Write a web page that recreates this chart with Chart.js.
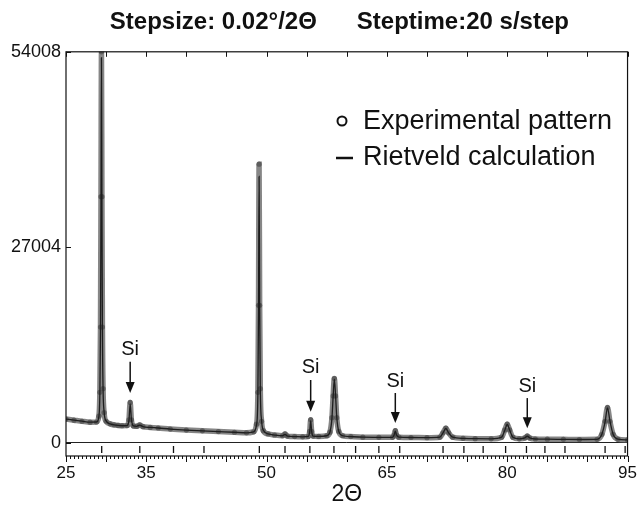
<!doctype html>
<html lang="en">
<head>
  <meta charset="utf-8">
  <title>XRD Rietveld pattern</title>
  <style>
    * { margin: 0; padding: 0; }
    body { background: white; }
    .chartBox { width: 644px; height: 508px; position: relative; }
  </style>
</head>
<body>
<div class="chartBox">
  <canvas id="myChart"></canvas>
</div>

<script src="https://cdn.jsdelivr.net/npm/chart.js"></script>
<script>
  // data
  const twoTheta = [25, 26, 27, 28, 28.8, 29.1, 29.22, 29.3, 29.36, 29.42, 29.48, 29.54, 29.62, 29.75, 30.0,
    30.5, 31.0, 31.5, 32.0, 32.6, 32.85, 33.0, 33.15, 33.4, 33.8, 34.2, 34.6, 35.5, 36.5, 38, 40, 42, 44, 46,
    47.5, 48.4, 48.75, 48.92, 49.0, 49.07, 49.14, 49.22, 49.38, 49.6, 50.2, 51, 52, 52.3, 52.6, 53.5, 54.5,
    55.2, 55.38, 55.5, 55.62, 55.8, 56.5, 57.5, 57.9, 58.15, 58.3, 58.45, 58.6, 58.75, 59.0, 59.5, 60.5, 62,
    64, 65.7, 65.9, 66.05, 66.2, 66.5, 68, 70, 71.6, 72.0, 72.35, 72.7, 73.2, 74.5, 76, 78, 79.3, 79.7, 80.0,
    80.3, 80.7, 81.5, 82.2, 82.5, 82.8, 83.5, 85, 87, 89, 91.2, 91.8, 92.2, 92.5, 92.8, 93.2, 93.8, 95];
  const expCounts = [3300, 3150, 3000, 2880, 2900, 3700, 7000, 16000, 34000, 54008, 34000, 16000, 7500, 4200, 3000,
    2650, 2500, 2420, 2380, 2400, 3200, 5600, 3200, 2350, 2300, 2500, 2250, 2150, 2070, 1920, 1780, 1680, 1580, 1480,
    1400, 1550, 2600, 7000, 19000, 38500, 19000, 7500, 3000, 1700, 1250, 1100, 1000, 1250, 950, 880, 850,
    900, 1600, 3200, 1600, 950, 900, 1000, 1500, 3500, 6500, 8900, 6500, 3500, 1600, 1000, 880, 800,
    780, 780, 1100, 1700, 1100, 800, 760, 740, 800, 1400, 2050, 1400, 800, 640, 600, 580, 800, 1800, 2600,
    1800, 800, 580, 700, 950, 700, 550, 520, 500, 480, 500, 1200, 3000, 4900, 3000, 1200, 520, 420];
  const calcCounts = [3300, 3160, 3010, 2880, 2900, 3650, 6800, 15500, 33000, 53200, 33500, 15800, 7500, 4300, 3050,
    2650, 2500, 2420, 2380, 2400, 3150, 5400, 3300, 2350, 2300, 2480, 2250, 2150, 2070, 1920, 1780, 1680, 1580, 1480,
    1400, 1550, 2500, 6800, 18500, 36800, 19000, 7600, 3100, 1750, 1250, 1100, 1000, 1200, 950, 880, 850,
    900, 1550, 3100, 1650, 950, 900, 1000, 1500, 3400, 6400, 8800, 6600, 3600, 1600, 1000, 880, 800,
    780, 780, 1100, 1650, 1100, 800, 760, 740, 800, 1400, 2000, 1400, 800, 640, 600, 580, 800, 1750, 2550,
    1800, 800, 580, 700, 950, 700, 550, 520, 500, 480, 500, 1200, 2900, 4850, 3050, 1200, 520, 420];
  // reflection markers under the zero line
  const braggPos = [29.45, 34.2, 38.4, 42.2, 49.1, 52.3, 55.4, 58.4, 61.1, 64.0, 66.6, 72.0, 74.6, 77.0,
    79.8, 82.4, 84.7, 87.2, 92.2, 94.7];
  const braggLevel = -900;
  // Si reflections: position, arrow tip and arrow tail (counts)
  const siPos = [33.0, 55.5, 66.05, 82.5];
  const siTip = [6900, 4300, 2750, 2050];
  const siTail = [11200, 8700, 6900, 6200];
  const xLabels = [25, 35, 50, 65, 80, 95];
  const yLabels = [0, 27004, 54008];

  const FONT = '"Liberation Sans", Arial, Helvetica, sans-serif';

  const toXY = (xs, ys) => xs.map((x, i) => ({ x: x, y: ys[i] }));

  // frame, inward ticks, Si arrows and the in-plot legend
  const decorations = {
    id: 'decorations',
    afterDraw(chart) {
      const ctx = chart.ctx;
      const a = chart.chartArea;
      const xs = chart.scales.x;
      const ys = chart.scales.y;
      ctx.save();
      ctx.strokeStyle = '#111';
      ctx.lineWidth = 1.2;
      ctx.strokeRect(a.left, a.top, a.right - a.left, a.bottom - a.top);

      // bottom ticks: minor every 0.5, major every 5
      ctx.lineWidth = 1;
      ctx.beginPath();
      for (let v = 25; v <= 95.001; v += 0.5) {
        const px = Math.round(xs.getPixelForValue(v)) + 0.5;
        const major = Math.abs(v / 5 - Math.round(v / 5)) < 1e-6;
        ctx.moveTo(px, a.bottom);
        ctx.lineTo(px, a.bottom + (major ? 6 : 3));
        if (major) {
          ctx.moveTo(px, a.top);
          ctx.lineTo(px, a.top + 5);
        }
      }
      yLabels.forEach(v => {
        const py = Math.round(ys.getPixelForValue(v)) + 0.5;
        ctx.moveTo(a.left, py);
        ctx.lineTo(a.left + 5, py);
      });
      ctx.stroke();

      // Si arrows
      ctx.fillStyle = '#111';
      ctx.font = '20px ' + FONT;
      ctx.textAlign = 'center';
      ctx.textBaseline = 'bottom';
      siPos.forEach((p, i) => {
        const px = xs.getPixelForValue(p);
        const tip = ys.getPixelForValue(siTip[i]);
        const tail = ys.getPixelForValue(siTail[i]);
        ctx.lineWidth = 1.5;
        ctx.beginPath();
        ctx.moveTo(px, tail);
        ctx.lineTo(px, tip - 8);
        ctx.stroke();
        ctx.beginPath();
        ctx.moveTo(px - 4.5, tip - 11);
        ctx.lineTo(px + 4.5, tip - 11);
        ctx.lineTo(px, tip);
        ctx.closePath();
        ctx.fill();
        ctx.fillText('Si', px, tail - 2);
      });

      // legend
      ctx.font = '27px ' + FONT;
      ctx.textAlign = 'left';
      ctx.textBaseline = 'middle';
      ctx.lineWidth = 2;
      ctx.beginPath();
      ctx.arc(342, 121, 4.5, 0, Math.PI * 2);
      ctx.stroke();
      ctx.fillText('Experimental pattern', 363, 122);
      ctx.lineWidth = 2.5;
      ctx.beginPath();
      ctx.moveTo(336, 158);
      ctx.lineTo(353, 158);
      ctx.stroke();
      ctx.fillText('Rietveld calculation', 363, 158);
      ctx.restore();
    }
  };

  const data = {
    datasets: [
      {
        label: 'Rietveld calculation',
        data: toXY(twoTheta, calcCounts),
        showLine: true,
        borderColor: '#1e1e1e',
        borderWidth: 1.3,
        pointRadius: 0,
        cubicInterpolationMode: 'monotone',
        order: 0
      },
      {
        label: 'Experimental pattern',
        data: toXY(twoTheta, expCounts),
        showLine: true,
        borderColor: 'rgba(100,100,100,0.78)',
        borderWidth: 5.5,
        pointRadius: 2.6,
        pointBorderWidth: 0,
        pointBackgroundColor: 'rgba(75,75,75,0.7)',
        cubicInterpolationMode: 'monotone',
        order: 1
      },
      {
        label: 'Reflections',
        data: braggPos.map(p => ({ x: p, y: braggLevel })),
        showLine: false,
        pointStyle: 'line',
        rotation: 90,
        pointRadius: 3.5,
        borderColor: '#111',
        borderWidth: 1.3,
        order: 2
      }
    ]
  };

  const config = {
    type: 'scatter',
    data,
    options: {
      responsive: true,
      maintainAspectRatio: false,
      animation: false,
      layout: { padding: { left: 0, right: 12, top: 0, bottom: 0 } },
      scales: {
        x: {
          type: 'linear',
          min: 25,
          max: 95,
          afterBuildTicks: (scale) => { scale.ticks = xLabels.map(v => ({ value: v })); },
          afterFit: (scale) => { scale.height = 52; },
          grid: { display: false, drawTicks: false },
          border: { display: false },
          ticks: {
            color: '#111',
            padding: 7,
            font: { family: FONT, size: 17 },
            callback: (v) => String(v)
          },
          title: {
            display: true,
            text: '2Θ',
            color: '#111',
            padding: { top: 0, bottom: 0 },
            font: { family: FONT, size: 23 }
          }
        },
        y: {
          min: -1796,
          max: 54008,
          afterBuildTicks: (scale) => { scale.ticks = yLabels.map(v => ({ value: v })); },
          afterFit: (scale) => { scale.width = 66; },
          grid: {
            drawTicks: false,
            lineWidth: 1,
            color: (c) => (c.tick && c.tick.value === 0) ? '#222' : 'rgba(0,0,0,0)'
          },
          border: { display: false },
          ticks: {
            color: '#111',
            padding: 5,
            font: { family: FONT, size: 18 },
            callback: (v) => String(v)
          }
        }
      },
      plugins: {
        legend: { display: false },
        tooltip: { enabled: false },
        title: {
          display: true,
          // leading spaces push the centred title right as in the figure
          text: '       Stepsize: 0.02°/2Θ      Steptime:20 s/step',
          color: '#111',
          padding: { top: 8, bottom: 15 },
          font: { family: FONT, size: 24, weight: 'bold' }
        }
      }
    },
    plugins: [decorations]
  };

  const myChart = new Chart(document.getElementById('myChart'), config);
</script>
</body>
</html>
